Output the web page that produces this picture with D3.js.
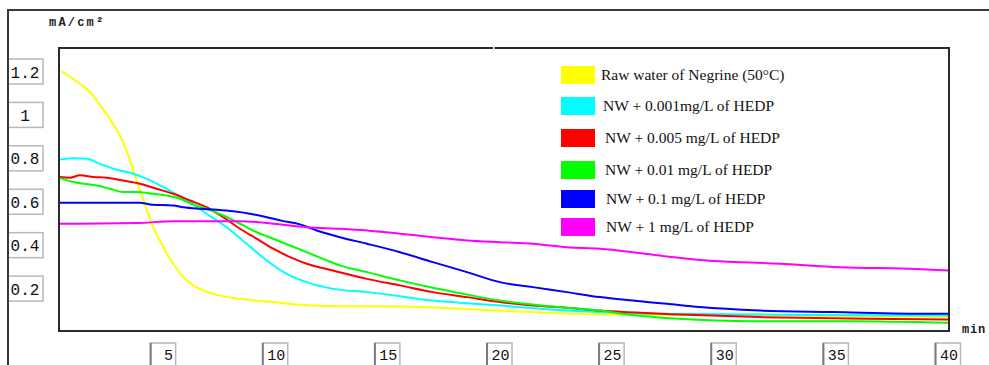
<!DOCTYPE html>
<html>
<head>
<meta charset="utf-8">
<script src="https://cdn.jsdelivr.net/npm/d3@7"></script>
<style>
  html, body { margin: 0; padding: 0; background: #fff; }
  svg { display: block; }
</style>
</head>
<body>
<div id="chart"></div>
<script>
// time (min) vs current density (mA/cm²)
const rawWater = [[0.48,1.203],[1.29,1.146],[1.81,1.10],[2.26,1.038],[2.71,0.969],[3.22,0.877],[3.67,0.747],[4.12,0.608],[4.56,0.485],[5.01,0.393],[5.45,0.317],[5.90,0.255],[6.34,0.217],[7.24,0.178],[8.43,0.155],[9.91,0.140],[11.69,0.124],[12.88,0.121],[15.56,0.120],[20.0,0.101],[24.5,0.083],[31.5,0.078],[40,0.071]];
const hedp0001 = [[0.40,0.797],[0.99,0.803],[1.59,0.800],[2.18,0.777],[2.78,0.754],[3.67,0.731],[4.27,0.708],[5.16,0.662],[6.05,0.608],[6.94,0.547],[7.83,0.485],[8.72,0.409],[9.62,0.332],[10.51,0.270],[11.40,0.232],[12.59,0.201],[14.09,0.186],[15.56,0.167],[17.03,0.147],[18.55,0.135],[20.02,0.124],[23.0,0.101],[25.9,0.089],[28.9,0.085],[33.4,0.081],[40,0.078]];
const hedp0005 = [[0.40,0.716],[0.85,0.713],[1.29,0.724],[1.89,0.716],[2.48,0.713],[3.22,0.700],[3.97,0.685],[4.71,0.662],[5.45,0.639],[6.20,0.608],[6.94,0.577],[7.68,0.531],[8.43,0.478],[9.17,0.432],[9.91,0.386],[10.66,0.347],[11.40,0.317],[12.57,0.286],[14.09,0.247],[15.56,0.217],[17.03,0.186],[18.55,0.163],[20.02,0.140],[21.49,0.124],[23.0,0.114],[24.48,0.101],[28.0,0.083],[31.6,0.071],[36.4,0.063],[40,0.060]];
const hedp001 = [[0.40,0.711],[0.85,0.697],[1.44,0.685],[2.04,0.677],[2.63,0.662],[3.22,0.647],[3.82,0.647],[4.56,0.639],[5.16,0.631],[5.75,0.616],[6.34,0.590],[6.94,0.570],[7.68,0.539],[8.43,0.501],[9.17,0.462],[9.91,0.432],[10.66,0.401],[11.40,0.370],[12.29,0.332],[12.88,0.309],[14.09,0.278],[15.56,0.240],[17.03,0.206],[18.55,0.175],[20.02,0.147],[21.49,0.129],[23.0,0.114],[24.48,0.101],[25.8,0.082],[28.0,0.063],[31.25,0.052],[35.6,0.052],[40,0.045]];
const hedp01 = [[0.40,0.598],[3.97,0.598],[4.41,0.590],[5.45,0.585],[5.90,0.577],[6.64,0.570],[7.39,0.565],[8.13,0.558],[8.87,0.547],[9.62,0.531],[10.36,0.513],[11.10,0.498],[11.85,0.470],[12.88,0.439],[14.09,0.409],[15.56,0.370],[17.03,0.324],[18.55,0.278],[20.02,0.232],[21.49,0.209],[23.0,0.186],[24.48,0.163],[25.95,0.147],[27.46,0.132],[28.93,0.117],[31.6,0.101],[34.86,0.094],[39.28,0.086],[40,0.086]];
const hedp1 = [[0.40,0.501],[3.82,0.504],[5.45,0.513],[8.43,0.513],[9.91,0.501],[11.40,0.485],[12.88,0.478],[14.09,0.470],[15.56,0.455],[17.03,0.439],[18.55,0.424],[20.02,0.416],[21.49,0.409],[23.0,0.393],[24.48,0.386],[25.95,0.370],[27.46,0.350],[28.93,0.334],[32.5,0.317],[35.18,0.301],[38.6,0.293],[40,0.286]];

const seriesNames = [
  'Raw water of Negrine (50°C)',
  'NW + 0.001mg/L of HEDP',
  'NW + 0.005 mg/L of HEDP',
  'NW + 0.01 mg/L of HEDP',
  'NW + 0.1 mg/L of HEDP',
  'NW + 1 mg/L of HEDP'
];
const seriesData = [rawWater, hedp0001, hedp0005, hedp001, hedp01, hedp1];
const seriesColors = ['#ffff00', '#00ffff', '#ff0000', '#00ff00', '#0000ff', '#ff00ff'];
const yTicks = [1.2, 1, 0.8, 0.6, 0.4, 0.2];
const xTicks = [5, 10, 15, 20, 25, 30, 35, 40];

const width = 989, height = 365;
const frame = { left: 59, top: 48, right: 949, bottom: 331 };

const svg = d3.select('#chart').append('svg')
  .attr('width', width)
  .attr('height', height);

const x = d3.scaleLinear().domain([0, 40]).range([51, 948]);
const y = d3.scaleLinear().domain([0, 1.2]).range([332.5, 72]);

// outer frame (top + left)
svg.append('path')
  .attr('d', `M8,${height}V10H${width}`)
  .attr('fill', 'none')
  .attr('stroke', '#3a3a3a')
  .attr('stroke-width', 2);

// unit label
svg.append('text')
  .attr('x', 49).attr('y', 26)
  .attr('font-family', 'Liberation Mono, DejaVu Sans Mono, monospace')
  .attr('font-size', 12).attr('font-weight', 'bold')
  .attr('letter-spacing', 2.2)
  .attr('fill', '#222')
  .text('mA/cm²');

// plot area border
svg.append('rect')
  .attr('x', frame.left).attr('y', frame.top)
  .attr('width', frame.right - frame.left)
  .attr('height', frame.bottom - frame.top)
  .attr('fill', '#fff')
  .attr('stroke', '#2a2a2a')
  .attr('stroke-width', 2);
// small notch in the top border
svg.append('rect')
  .attr('x', 493).attr('y', frame.top - 2)
  .attr('width', 1.5).attr('height', 4)
  .attr('fill', '#fff');

// y tick boxes
const yt = svg.append('g').selectAll('g').data(yTicks).join('g');
yt.append('rect')
  .attr('x', 8).attr('y', d => y(d) - 13)
  .attr('width', 35).attr('height', 25)
  .attr('fill', '#fff')
  .attr('stroke', '#b8b8b8').attr('stroke-width', 1.5);
yt.append('text')
  .attr('x', 25).attr('y', d => y(d) + 5.5)
  .attr('text-anchor', 'middle')
  .attr('font-family', 'Liberation Mono, DejaVu Sans Mono, monospace')
  .attr('font-size', 16)
  .attr('fill', '#111')
  .text(d => d);
// redraw left frame line over the boxes
svg.append('line')
  .attr('x1', 8).attr('x2', 8).attr('y1', 10).attr('y2', height)
  .attr('stroke', '#3a3a3a').attr('stroke-width', 2);

// x tick boxes
const xt = svg.append('g').selectAll('g').data(xTicks).join('g');
xt.append('rect')
  .attr('x', d => x(d) - 12.5).attr('y', 343)
  .attr('width', 25).attr('height', 30)
  .attr('fill', '#fff')
  .attr('stroke', '#b8b8b8').attr('stroke-width', 1.5);
xt.append('line')
  .attr('x1', d => x(d) - 12.5).attr('x2', d => x(d) - 12.5)
  .attr('y1', 343).attr('y2', height)
  .attr('stroke', '#7a7a7a').attr('stroke-width', 2);
xt.append('text')
  .attr('x', d => x(d) + 10).attr('y', 360)
  .attr('text-anchor', 'end')
  .attr('font-family', 'Liberation Mono, DejaVu Sans Mono, monospace')
  .attr('font-size', 15)
  .attr('fill', '#111')
  .text(d => d);

// x unit label
svg.append('text')
  .attr('x', 962).attr('y', 333)
  .attr('font-family', 'Liberation Mono, DejaVu Sans Mono, monospace')
  .attr('font-size', 12).attr('font-weight', 'bold')
  .attr('letter-spacing', 0.8)
  .attr('fill', '#222')
  .text('min');

// curves
const line = d3.line()
  .x(d => x(d[0]))
  .y(d => y(d[1]))
  .curve(d3.curveMonotoneX);

svg.append('g').selectAll('path')
  .data(seriesData)
  .join('path')
  .attr('d', line)
  .attr('fill', 'none')
  .attr('stroke', (d, i) => seriesColors[i])
  .attr('stroke-width', 2);

// legend
const legendRows = [75, 106, 138, 170, 199, 227];
const legendTextX = [601, 603, 605, 605, 606, 606];
const lg = svg.append('g').selectAll('g').data(seriesNames).join('g');
lg.append('rect')
  .attr('x', 561).attr('y', (d, i) => legendRows[i] - 9)
  .attr('width', 34).attr('height', 18)
  .attr('fill', (d, i) => seriesColors[i]);
lg.append('text')
  .attr('x', (d, i) => legendTextX[i]).attr('y', (d, i) => legendRows[i] + 5)
  .attr('font-family', 'Liberation Serif, DejaVu Serif, serif')
  .attr('font-size', 15.5)
  .attr('fill', '#111')
  .text(d => d);
</script>
</body>
</html>
